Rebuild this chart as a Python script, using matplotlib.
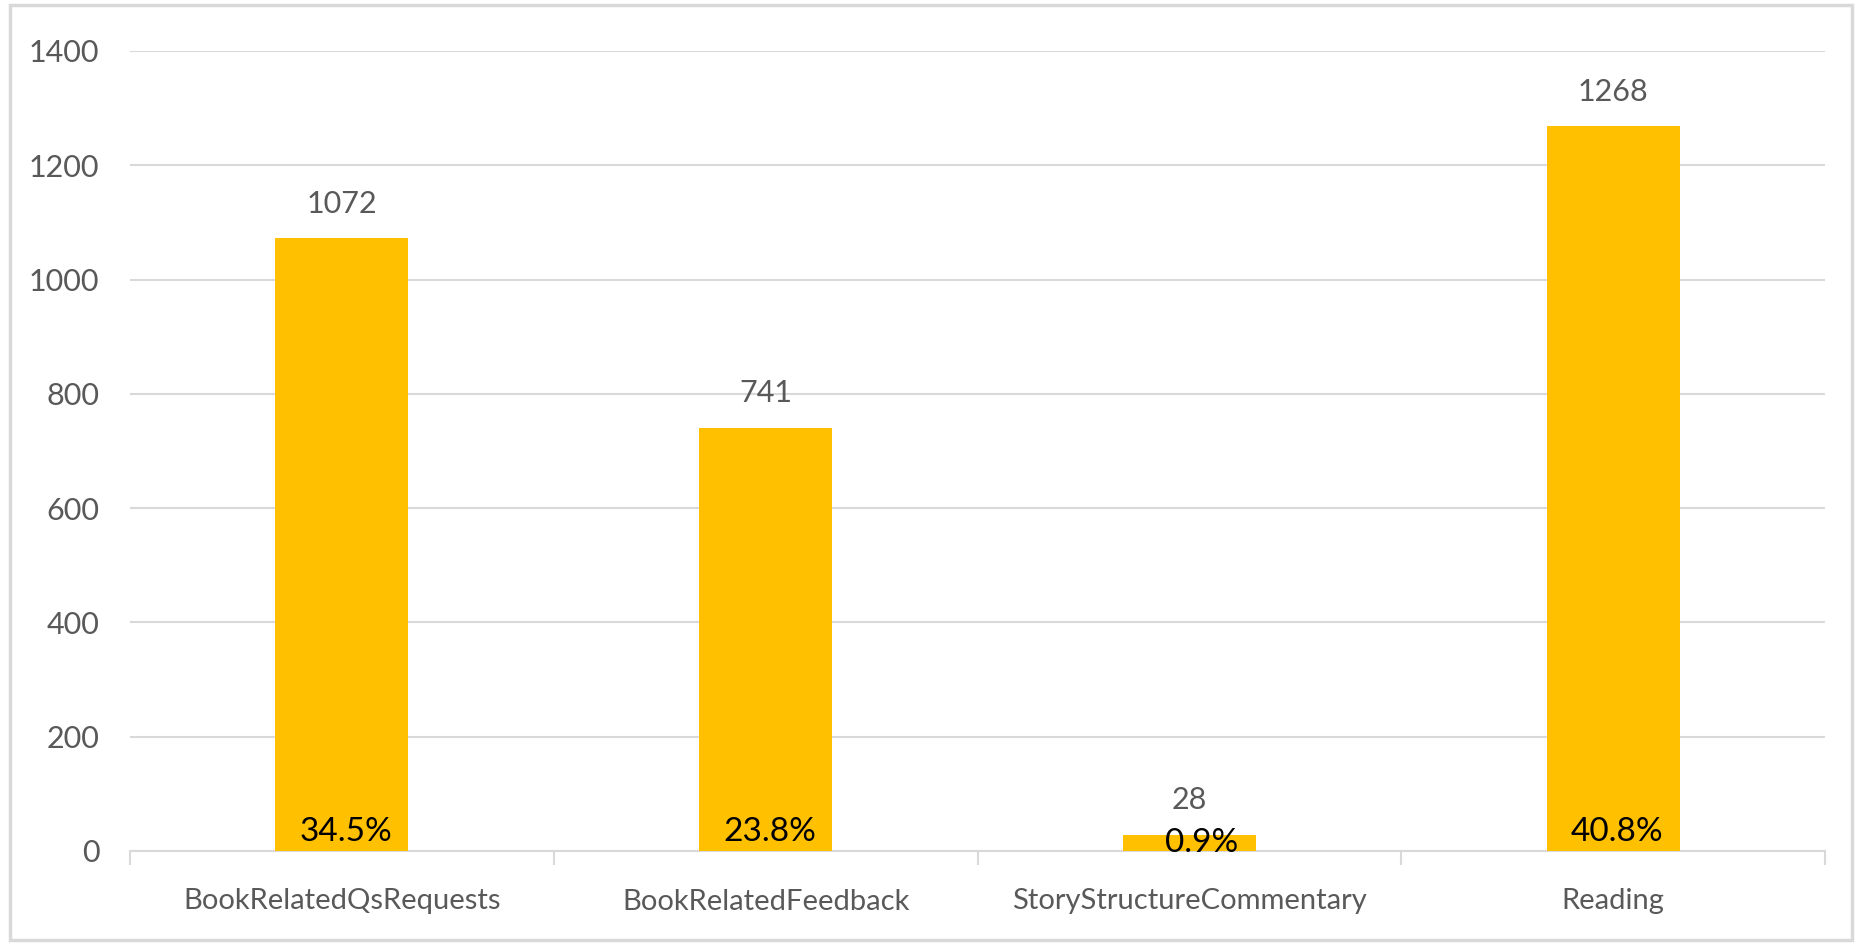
import matplotlib
matplotlib.use("Agg")
import matplotlib.pyplot as plt
from matplotlib.patches import Rectangle

categories = ["BookRelatedQsRequests", "BookRelatedFeedback",
              "StoryStructureCommentary", "Reading"]
counts = [1072, 741, 28, 1268]
percent_labels = ["34.5%", "23.8%", "0.9%", "40.8%"]
y_ticks = [0, 200, 400, 600, 800, 1000, 1200, 1400]

bar_color = "#FFC000"
grid_color = "#D9D9D9"
text_grey = "#595959"

plt.rcParams["font.family"] = ["Lato", "DejaVu Sans"]

fig = plt.figure(figsize=(18.59, 9.44), dpi=100)
ax = fig.add_axes([130 / 1859, 1 - 851 / 944, 1695 / 1859, 800 / 944])

x = list(range(len(categories)))
bars = ax.bar(x, counts, width=0.314, color=bar_color, zorder=3)

ax.set_xlim(-0.5, len(categories) - 0.5)
ax.set_ylim(0, 1400)
ax.set_yticks(y_ticks)
ax.set_yticklabels([str(t) for t in y_ticks], fontsize=22, color=text_grey)
ax.yaxis.grid(True, color=grid_color, linewidth=1.5, zorder=0)
ax.tick_params(axis="y", length=0, pad=22)

# category labels, ticks sit between the categories
ax.set_xticks(x)
ax.set_xticklabels(categories, fontsize=21, color=text_grey)
ax.tick_params(axis="x", length=0, pad=27)
ax.set_xticks([i - 0.5 for i in range(len(categories) + 1)], minor=True)
ax.tick_params(axis="x", which="minor", length=10, width=1.5, color=grid_color)

for side in ["top", "right", "left"]:
    ax.spines[side].set_visible(False)
ax.spines["bottom"].set_color(grid_color)
ax.spines["bottom"].set_linewidth(1.5)

# value labels above the bars
for xi, v in zip(x, counts):
    ax.annotate(str(v), (xi, v), xytext=(0, 15), textcoords="offset points",
                ha="center", va="bottom", fontsize=22, color=text_grey)

# percentage labels at the base of the bars
for xi, v, p in zip(x, counts, percent_labels):
    if v < 60:
        ax.text(xi + 0.03, v / 2, p, ha="center", va="center",
                fontsize=24, color="black", zorder=4)
    else:
        ax.annotate(p, (xi, 0), xytext=(3, 3), textcoords="offset points",
                    ha="center", va="bottom", fontsize=24, color="black", zorder=4)

fig.patches.append(Rectangle((10 / 1859, 4 / 944), 1842 / 1859, 935 / 944,
                             transform=fig.transFigure, fill=False,
                             edgecolor=grid_color, linewidth=2.5))

fig.savefig("out.png", dpi=100)
